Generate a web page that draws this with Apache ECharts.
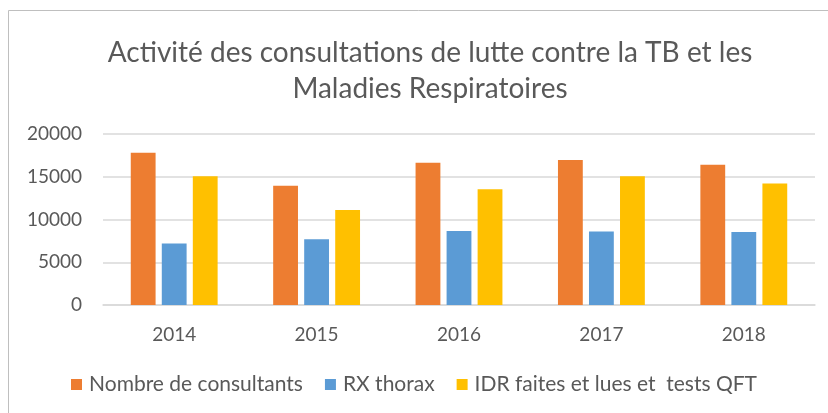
<!DOCTYPE html>
<html>
<head>
<meta charset="utf-8">
<script src="https://cdn.jsdelivr.net/npm/echarts@6/dist/echarts.min.js"></script>
<style>
  html, body { margin: 0; padding: 0; background: #fff; }
  #chart { width: 828px; height: 413px; }
</style>
</head>
<body>
<div id="chart"></div>
<script>
// données
var years = ['2014', '2015', '2016', '2017', '2018']
var consultants = [17800, 13950, 16650, 16950, 16400]
var rxThorax = [7200, 7700, 8650, 8600, 8550]
var idrQft = [15050, 11100, 13550, 15050, 14200]
var yTicks = [0, 5000, 10000, 15000, 20000]

var font = 'Lato, "Open Sans", sans-serif'
var textColor = '#595959'

var myChart = echarts.init(document.getElementById('chart'))

var option = {
  backgroundColor: '#fff',
  color: ['#ed7d31', '#5b9bd5', '#ffc000'],
  animation: false,
  title: {
    text: 'Activité des consultations de lutte contre la TB et les\nMaladies Respiratoires',
    left: 425,
    textAlign: 'center',
    top: 30,
    textStyle: {
      color: textColor,
      fontFamily: font,
      fontSize: 28,
      fontWeight: 'normal',
      lineHeight: 36
    }
  },
  legend: {
    data: ['Nombre de consultants', 'RX thorax', 'IDR faites et lues et  tests QFT'],
    bottom: 13,
    left: 'center',
    itemWidth: 11,
    itemHeight: 11,
    itemGap: 22,
    icon: 'rect',
    textStyle: {
      color: textColor,
      fontFamily: font,
      fontSize: 21,
      padding: [0, 0, 0, 2]
    }
  },
  grid: {
    left: 103,
    right: 13,
    top: 134,
    bottom: 108,
    containLabel: false
  },
  xAxis: {
    type: 'category',
    data: years,
    axisTick: { show: false },
    axisLine: { lineStyle: { color: '#d9d9d9', width: 1.5 } },
    axisLabel: {
      color: textColor,
      fontFamily: font,
      fontSize: 19,
      margin: 20
    }
  },
  yAxis: {
    type: 'value',
    min: yTicks[0],
    max: yTicks[yTicks.length - 1],
    interval: yTicks[1] - yTicks[0],
    axisLine: { show: false },
    axisTick: { show: false },
    splitLine: { lineStyle: { color: '#d9d9d9', width: 1.5 } },
    axisLabel: {
      color: textColor,
      fontFamily: font,
      fontSize: 19,
      margin: 21,
      formatter: function(v) { return String(v) }
    }
  },
  series: [
    {
      name: 'Nombre de consultants',
      type: 'bar',
      data: consultants,
      barGap: '25%',
      barCategoryGap: '39%'
    },
    {
      name: 'RX thorax',
      type: 'bar',
      data: rxThorax
    },
    {
      name: 'IDR faites et lues et  tests QFT',
      type: 'bar',
      data: idrQft
    }
  ],
  graphic: [{
    type: 'rect',
    shape: { x: 8.5, y: 10.5, width: 900, height: 500 },
    style: { fill: 'none', stroke: '#bfbfbf', lineWidth: 1 },
    silent: true
  }]
}

myChart.setOption(option)
window.addEventListener('resize', () => { myChart.resize() })
</script>
</body>
</html>
